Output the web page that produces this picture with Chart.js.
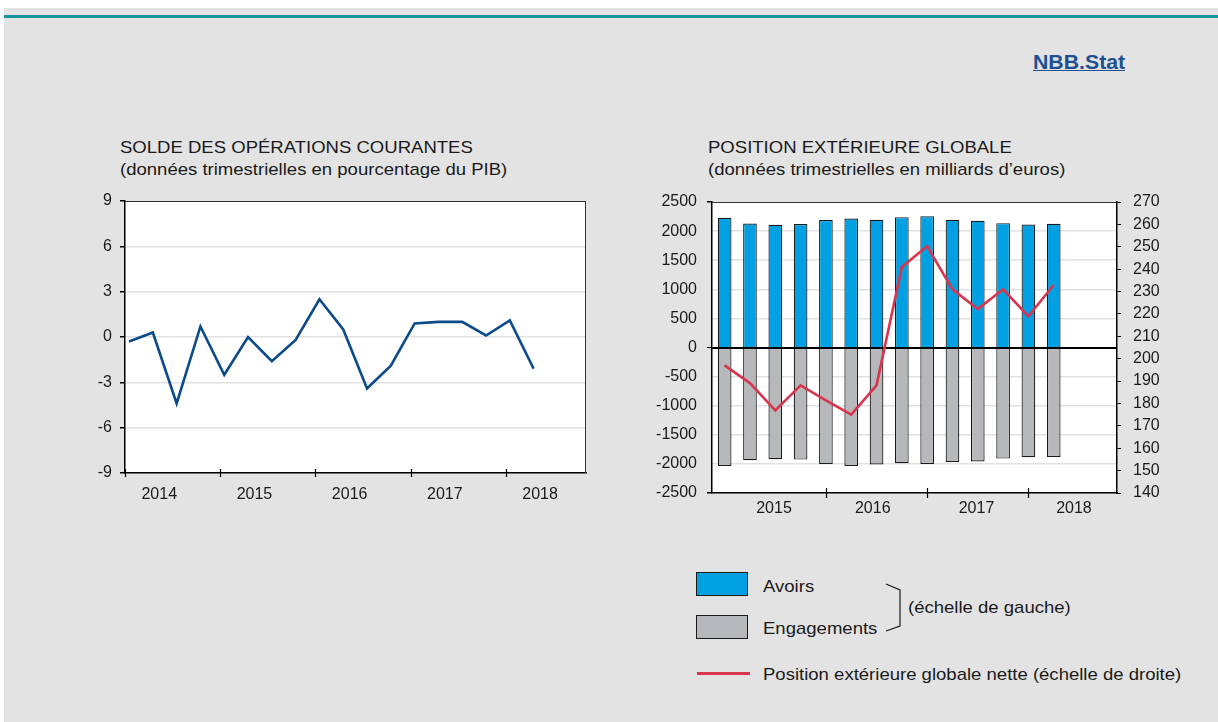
<!DOCTYPE html>
<html>
<head>
<meta charset="utf-8">
<script src="https://cdn.jsdelivr.net/npm/chart.js@4.4.0/dist/chart.umd.min.js"></script>
<style>
  html, body { margin: 0; padding: 0; background: #fff; }
  body { width: 1218px; height: 722px; position: relative; overflow: hidden;
         font-family: "Liberation Sans", Arial, sans-serif; color: #1a1a1a; }
  #bg { position: absolute; left: 4px; top: 8px; right: 0; bottom: 0; background: #e3e3e3; }
  #teal { position: absolute; left: 4px; right: 0; top: 15px; height: 3px; background: #17959d; }
  .t { position: absolute; font-size: 17px; line-height: 22px; white-space: nowrap;
       transform: scaleX(1.09); transform-origin: left center; }
  .lg { position: absolute; font-size: 17px; line-height: 20px; white-space: nowrap;
        transform: scaleX(1.09); transform-origin: left center; }
  #nbb { position: absolute; left: 1033px; top: 50px; font-size: 19.5px; line-height: 24px; font-weight: bold;
         color: #1d4f91; text-decoration: underline; transform: scaleX(1.09); transform-origin: left center; }
  .wrap { position: absolute; }
  .swatch { position: absolute; width: 50px; height: 22px; border: 1.5px solid #1a1a1a; }
</style>
</head>
<body>
<div id="bg"></div>
<div id="teal"></div>
<div id="nbb">NBB.Stat</div>

<div class="t" style="left:120px; top:137px">SOLDE DES OPÉRATIONS COURANTES<br>(données trimestrielles en pourcentage du PIB)</div>
<div class="t" style="left:708px; top:137px">POSITION EXTÉRIEURE GLOBALE<br>(données trimestrielles en milliards d’euros)</div>

<div class="wrap" style="left:60px; top:180px; width:560px; height:340px"><canvas id="solde"></canvas></div>
<div class="wrap" style="left:630px; top:180px; width:560px; height:350px"><canvas id="peg"></canvas></div>

<!-- legend -->
<div class="swatch" style="left:696px; top:572px; background:#00a0e3"></div>
<div class="swatch" style="left:696px; top:615px; background:#b7b8bb"></div>
<div class="lg" style="left:763px; top:577px">Avoirs</div>
<div class="lg" style="left:763px; top:619px">Engagements</div>
<svg style="position:absolute; left:880px; top:580px" width="30" height="56">
  <polyline points="6,4 20,10 20,46 6,51" fill="none" stroke="#1a1a1a" stroke-width="1.2"/>
</svg>
<div class="lg" style="left:908px; top:598px">(échelle de gauche)</div>
<div style="position:absolute; left:697px; top:672px; width:53px; height:3px; background:#d8364f"></div>
<div class="lg" style="left:763px; top:665px">Position extérieure globale nette (échelle de droite)</div>

<script>
Chart.defaults.font.family = '"Liberation Sans", Arial, sans-serif'
Chart.defaults.font.size = 16
Chart.defaults.color = '#1a1a1a'

// Solde des opérations courantes, 2014T1 - 2018T2 (% du PIB)
const soldeYears = ['2014', '2015', '2016', '2017', '2018']
const solde = [-0.3, 0.3, -4.4, 0.7, -2.5, 0.0, -1.6, -0.2, 2.5, 0.5, -3.4, -1.9, 0.9, 1.0, 1.0, 0.1, 1.1, -2.1]
const soldeTicks = [-9, -6, -3, 0, 3, 6, 9]

// Position extérieure globale, 2015T1 - 2018T2 (milliards d'euros)
const pegYears = ['2015', '2016', '2017', '2018']
const avoirs = [2229, 2131, 2109, 2120, 2189, 2217, 2194, 2240, 2257, 2194, 2177, 2137, 2114, 2126]
const engagements = [-2034, -1937, -1920, -1926, -2000, -2034, -2011, -1989, -2000, -1966, -1960, -1909, -1886, -1880]
const pegNette = [197.0, 189.1, 176.9, 188.1, 181.4, 175.0, 188.1, 241.0, 250.2, 231.0, 222.2, 231.0, 218.9, 232.9]

// white plot area, thin top/right frame, crossing tick marks on the x axis
function framePlugin(crossAt, half, drawRight) {
  return {
    id: 'frame',
    beforeDraw(chart) {
      const a = chart.chartArea
      const ctx = chart.ctx
      ctx.save()
      ctx.fillStyle = '#fff'
      ctx.fillRect(a.left, a.top, a.right - a.left, a.bottom - a.top)
      ctx.restore()
    },
    // zero line over the bars but under the net position line
    beforeDatasetDraw(chart, args) {
      if (args.meta.type !== 'line' || !args.meta.yScale || args.meta.yScale.id !== 'y2') return
      const a = chart.chartArea
      const ctx = chart.ctx
      const y0 = Math.round(chart.scales.y.getPixelForValue(0)) + 0.5
      ctx.save()
      ctx.strokeStyle = '#000'
      ctx.lineWidth = 1
      ctx.beginPath()
      ctx.moveTo(a.left, y0)
      ctx.lineTo(a.right, y0)
      ctx.stroke()
      ctx.restore()
    },
    afterDatasetsDraw(chart) {
      const a = chart.chartArea
      const ctx = chart.ctx
      ctx.save()
      ctx.strokeStyle = '#333'
      ctx.lineWidth = 1
      ctx.beginPath()
      ctx.moveTo(a.left, a.top + 0.5)
      ctx.lineTo(a.right, a.top + 0.5)
      if (drawRight) {
        ctx.moveTo(a.right - 0.5, a.top)
        ctx.lineTo(a.right - 0.5, a.bottom)
      }
      ctx.stroke()
      ctx.strokeStyle = '#000'
      ctx.lineWidth = 1.2
      ctx.beginPath()
      const xs = chart.scales.x
      crossAt.forEach(v => {
        const px = Math.round(xs.getPixelForValue(v)) + 0.5
        ctx.moveTo(px, a.bottom - half)
        ctx.lineTo(px, a.bottom + half)
      })
      ctx.stroke()
      ctx.restore()
    }
  }
}

new Chart(document.getElementById('solde'), {
  type: 'line',
  data: {
    datasets: [{
      data: solde.map((v, i) => ({x: i, y: v})),
      borderColor: '#0b4a8b',
      borderWidth: 2.6,
      pointRadius: 0,
      tension: 0,
      fill: false
    }]
  },
  options: {
    responsive: true,
    maintainAspectRatio: false,
    animation: false,
    events: [],
    layout: {padding: {top: 21, right: 34, left: 0, bottom: 0}},
    plugins: {legend: {display: false}, tooltip: {enabled: false}},
    scales: {
      x: {
        type: 'linear',
        offset: false,
        min: -0.17,
        max: 19.2,
        afterBuildTicks: s => { s.ticks = soldeYears.map((y, i) => ({value: i * 4 + 1.27})) },
        afterFit: s => { s.height = 47 },
        grid: {display: false},
        border: {color: '#000', width: 1.5},
        ticks: {autoSkip: false, maxRotation: 0, padding: 4, callback: (v, i) => soldeYears[i]}
      },
      y: {
        min: -9,
        max: 9,
        afterBuildTicks: s => { s.ticks = soldeTicks.map(v => ({value: v})) },
        afterFit: s => { s.width = 65 },
        grid: {color: '#e1e1e1', lineWidth: 1.5, tickColor: '#000', tickLength: 5},
        border: {color: '#000', width: 1.5},
        ticks: {padding: 8, callback: v => String(v)}
      }
    }
  },
  plugins: [framePlugin(soldeYears.map((y, i) => i * 4 - 0.17), 4, true)]
})

new Chart(document.getElementById('peg'), {
  type: 'bar',
  data: {
    datasets: [
      {
        type: 'line',
        label: 'Position extérieure globale nette',
        data: pegNette.map((v, i) => ({x: i, y: v})),
        yAxisID: 'y2',
        borderColor: '#d8364f',
        borderWidth: 2.6,
        pointRadius: 0,
        tension: 0,
        order: 0
      },
      {
        label: 'Avoirs',
        data: avoirs.map((v, i) => ({x: i, y: v})),
        backgroundColor: '#00a0e3',
        borderColor: '#1a1a1a',
        borderWidth: 1.2,
        borderSkipped: 'start',
        categoryPercentage: 1,
        barPercentage: 0.54,
        order: 1
      },
      {
        label: 'Engagements',
        data: engagements.map((v, i) => ({x: i, y: v})),
        backgroundColor: '#b7b8bb',
        borderColor: '#1a1a1a',
        borderWidth: 1.2,
        borderSkipped: 'start',
        categoryPercentage: 1,
        barPercentage: 0.54,
        order: 1
      }
    ]
  },
  options: {
    responsive: true,
    maintainAspectRatio: false,
    animation: false,
    events: [],
    layout: {padding: {top: 22, right: 0, left: 0, bottom: 0}},
    plugins: {legend: {display: false}, tooltip: {enabled: false}},
    scales: {
      x: {
        type: 'linear',
        stacked: true,
        offset: false,
        min: -0.5,
        max: 15.5,
        afterBuildTicks: s => { s.ticks = [1.95, 5.85, 9.95, 13.8].map(v => ({value: v})) },
        afterFit: s => { s.height = 37 },
        grid: {display: false},
        border: {color: '#000', width: 1.5},
        ticks: {autoSkip: false, maxRotation: 0, padding: -2, callback: (v, i) => pegYears[i]}
      },
      y: {
        stacked: true,
        min: -2500,
        max: 2500,
        ticks: {stepSize: 500, padding: 10, callback: v => String(v)},
        afterFit: s => { s.width = 82 },
        grid: {
          color: c => c.tick && c.tick.value === 0 ? '#000' : '#e1e1e1',
          lineWidth: c => c.tick && c.tick.value === 0 ? 1 : 1.5,
          tickColor: c => c.tick && Math.abs(c.tick.value) % 2500 === 0 ? '#000' : 'rgba(0,0,0,0)',
          tickLength: 5
        },
        border: {color: '#000', width: 1.5}
      },
      y2: {
        position: 'right',
        min: 140,
        max: 270,
        ticks: {stepSize: 10, padding: 12, callback: v => String(v)},
        afterFit: s => { s.width = 73 },
        grid: {drawOnChartArea: false, tickColor: '#000', tickLength: 4},
        border: {color: '#000', width: 1.5}
      }
    }
  },
  plugins: [framePlugin([4, 8, 12], 5, false)]
})
</script>
</body>
</html>
